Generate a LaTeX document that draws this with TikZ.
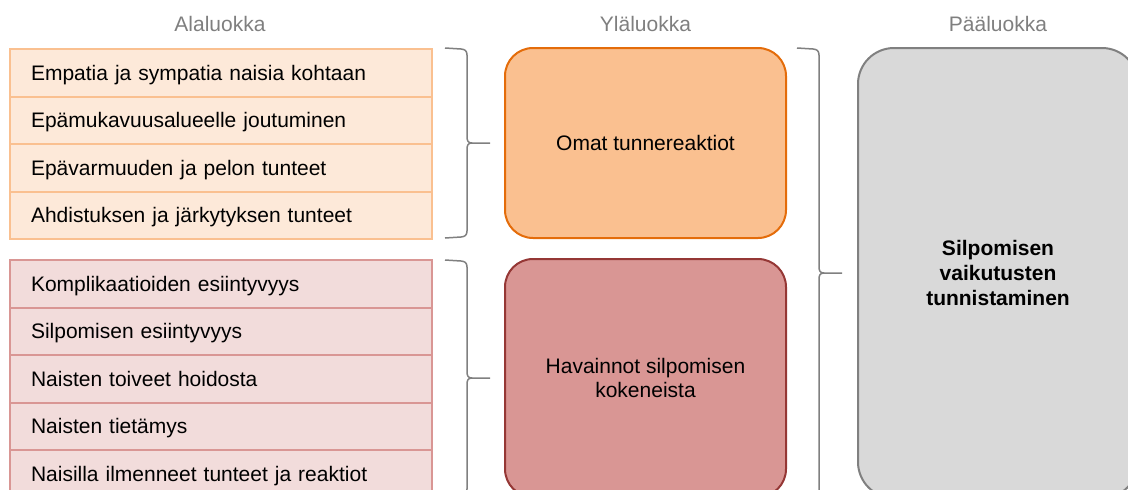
\documentclass[tikz,border=0pt]{standalone}
\usepackage{fontspec}
\setmainfont{Liberation Sans}
\usepackage{tikz}

\definecolor{otsikko}{HTML}{7F7F7F}
\definecolor{alaorv}{HTML}{FDE9D9}
\definecolor{alaorr}{HTML}{FAC090}
\definecolor{alapunv}{HTML}{F2DCDB}
\definecolor{alapunr}{HTML}{D99694}
\definecolor{ylaorv}{HTML}{FAC090}
\definecolor{ylaorr}{HTML}{E46C0A}
\definecolor{ylapunv}{HTML}{D99694}
\definecolor{ylapunr}{HTML}{953735}
\definecolor{paav}{HTML}{D9D9D9}
\definecolor{paar}{HTML}{808080}

\tikzset{
  teksti/.style = {font=\fontsize{21}{24.5}\selectfont},
  luokka/.style = {teksti, text=otsikko, anchor=base},
  alarivi/.style = {teksti, draw, line width=2pt, anchor=north west,
    text width=380pt, align=left, inner xsep=21pt, inner ysep=0pt,
    minimum height=47.5pt, text height=15pt, text depth=0pt},
  ylalaatikko/.style = {teksti, draw, line width=2pt, rounded corners=28pt,
    minimum width=281pt, align=center},
  sulkuviiva/.style = {draw=paar, line width=1.5pt}
}

\newcommand\sulku[3]{%
  \draw[sulkuviiva] (#1,#2) -- (#1+16,#2+1)
    .. controls (#1+20,#2+1.3) and (#1+22,#2+3) .. (#1+22,#2+7)
    -- (#1+22,{(#2+#3)/2-7})
    .. controls (#1+22,{(#2+#3)/2-2}) and (#1+23,{(#2+#3)/2}) .. (#1+27,{(#2+#3)/2})
    -- (#1+45,{(#2+#3)/2})
    (#1+27,{(#2+#3)/2})
    .. controls (#1+23,{(#2+#3)/2}) and (#1+22,{(#2+#3)/2+2}) .. (#1+22,{(#2+#3)/2+7})
    -- (#1+22,#3-7)
    .. controls (#1+22,#3-3) and (#1+20,#3-1.3) .. (#1+16,#3-1) -- (#1,#3);
}

\begin{document}
\begin{tikzpicture}[x=1pt, y=-1pt]
\useasboundingbox (0,0) rectangle (1128,490);
\clip (0,0) rectangle (1128,490);

\node[luokka] (ala) at (220,31) {Alaluokka};
\node[luokka] (yla) at (645.5,31) {Yläluokka};
\node[luokka] (paa) at (998,31) {Pääluokka};

\node[alarivi, draw=alaorr, fill=alaorv] (ala1) at (9,48) {Empatia ja sympatia naisia kohtaan};
\node[alarivi, draw=alaorr, fill=alaorv] (ala2) at (9,95.5) {Epämukavuusalueelle joutuminen};
\node[alarivi, draw=alaorr, fill=alaorv] (ala3) at (9,143) {Epävarmuuden ja pelon tunteet};
\node[alarivi, draw=alaorr, fill=alaorv] (ala4) at (9,190.5) {Ahdistuksen ja järkytyksen tunteet};

\node[alarivi, draw=alapunr, fill=alapunv] (ala5) at (9,259) {Komplikaatioiden esiintyvyys};
\node[alarivi, draw=alapunr, fill=alapunv] (ala6) at (9,306.5) {Silpomisen esiintyvyys};
\node[alarivi, draw=alapunr, fill=alapunv] (ala7) at (9,354) {Naisten toiveet hoidosta};
\node[alarivi, draw=alapunr, fill=alapunv] (ala8) at (9,401.5) {Naisten tietämys};
\node[alarivi, draw=alapunr, fill=alapunv] (ala9) at (9,449) {Naisilla ilmenneet tunteet ja reaktiot};

\node[ylalaatikko, draw=ylaorr, fill=ylaorv, minimum height=190pt] (omat) at (645.5,143) {Omat tunnereaktiot};
\node[ylalaatikko, draw=ylapunr, fill=ylapunv, minimum height=238pt] (havainnot) at (645.5,378) {Havainnot silpomisen\\kokeneista};

\node[teksti, draw=paar, fill=paav, line width=2pt, rounded corners=36pt,
  minimum width=280pt, minimum height=450pt, align=center, font=\fontsize{21}{25}\selectfont\bfseries] (paaluokka) at (998,273) {Silpomisen\\vaikutusten\\tunnistaminen};

\sulku{445}{48}{238}
\sulku{445}{260}{496}
\sulku{797}{48}{498}
\end{tikzpicture}
\end{document}
